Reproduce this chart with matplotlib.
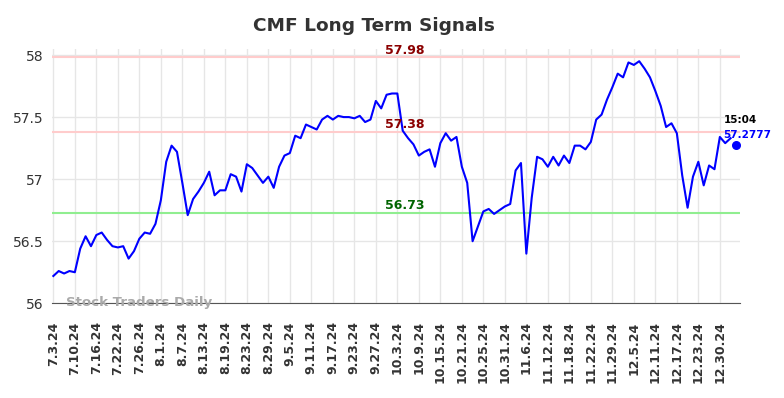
import matplotlib
matplotlib.use('Agg')
import matplotlib.pyplot as plt

# closing values (one per trading day)
prices = [
    56.22, 56.26, 56.24, 56.26, 56.25, 56.44, 56.54, 56.46, 56.55, 56.57,
    56.51, 56.46, 56.45, 56.46, 56.36, 56.42, 56.52, 56.57, 56.56, 56.64,
    56.83, 57.14, 57.27, 57.22, 56.97, 56.71, 56.84, 56.90, 56.97, 57.06,
    56.87, 56.91, 56.91, 57.04, 57.02, 56.90, 57.12, 57.09, 57.03, 56.97,
    57.02, 56.93, 57.10, 57.19, 57.21, 57.35, 57.33, 57.44, 57.42, 57.40,
    57.48, 57.51, 57.48, 57.51, 57.50, 57.50, 57.49, 57.51, 57.46, 57.48,
    57.63, 57.57, 57.68, 57.69, 57.69, 57.39, 57.33, 57.28, 57.19, 57.22,
    57.24, 57.10, 57.29, 57.37, 57.31, 57.34, 57.10, 56.97, 56.50, 56.62,
    56.74, 56.76, 56.72, 56.75, 56.78, 56.80, 57.07, 57.13, 56.40, 56.85,
    57.18, 57.16, 57.10, 57.18, 57.11, 57.19, 57.13, 57.27, 57.27, 57.24,
    57.30, 57.48, 57.52, 57.64, 57.74, 57.85, 57.82, 57.94, 57.92, 57.95,
    57.89, 57.82, 57.71, 57.59, 57.42, 57.45, 57.37, 57.03, 56.77, 57.02,
    57.14, 56.95, 57.11, 57.08, 57.34, 57.29, 57.33,
]
last_price = 57.2777
last_time = '15:04'

tick_labels = [
    '7.3.24', '7.10.24', '7.16.24', '7.22.24', '7.26.24', '8.1.24', '8.7.24',
    '8.13.24', '8.19.24', '8.23.24', '8.29.24', '9.5.24', '9.11.24', '9.17.24',
    '9.23.24', '9.27.24', '10.3.24', '10.9.24', '10.15.24', '10.21.24',
    '10.25.24', '10.31.24', '11.6.24', '11.12.24', '11.18.24', '11.22.24',
    '11.29.24', '12.5.24', '12.11.24', '12.17.24', '12.23.24', '12.30.24',
]
tick_step = 4

signal_high = 57.98
signal_mid = 57.38
signal_low = 56.73

fig = plt.figure(figsize=(7.84, 3.98), dpi=100)
ax = fig.add_axes([52 / 784, 1 - 303.3 / 398, 688 / 784, 254.5 / 398])

x = list(range(len(prices)))
ax.plot(x, prices, color='#0000ff', lw=1.5, zorder=3)
ax.scatter([len(prices)], [last_price], color='#0000ff', s=30, zorder=4)

ax.axhline(signal_high, color='#ffcccc', lw=1.5, zorder=2)
ax.axhline(signal_mid, color='#ffcccc', lw=1.5, zorder=2)
ax.axhline(signal_low, color='#90ee90', lw=1.5, zorder=2)

lab_x = 65.4
ax.text(lab_x, signal_high + 0.005, f'{signal_high:.2f}', color='#8b0000',
        fontsize=9, fontweight='bold', ha='center', va='bottom')
ax.text(lab_x, signal_mid + 0.005, f'{signal_mid:.2f}', color='#8b0000',
        fontsize=9, fontweight='bold', ha='center', va='bottom')
ax.text(lab_x, signal_low + 0.005, f'{signal_low:.2f}', color='#006400',
        fontsize=9, fontweight='bold', ha='center', va='bottom')

ax.text(124.7, last_price + 0.195, last_time, color='black', fontsize=7.5,
        fontweight='bold', ha='left', va='center')
ax.text(124.7, last_price + 0.08, f'{last_price}', color='#0000ff', fontsize=7.5,
        fontweight='bold', ha='left', va='center')

ax.text(2.4, 56.01, 'Stock Traders Daily', color='#aaaaaa', fontsize=9.6,
        fontweight='bold', ha='left', va='center', zorder=5)

ax.set_xlim(-0.25, 127.75)
ax.set_ylim(56, 58.05)
ax.set_xticks([i * tick_step for i in range(len(tick_labels))])
ax.set_xticklabels(tick_labels, rotation=90, fontsize=9, fontweight='bold', color='#333333')
ax.set_yticks([56, 56.5, 57, 57.5, 58])
ax.set_yticklabels(['56', '56.5', '57', '57.5', '58'], fontsize=10, color='#333333')
ax.tick_params(axis='y', length=0, pad=6)
ax.tick_params(axis='x', length=0, pad=13)
ax.grid(True, color='#e6e6e6', lw=1)
ax.set_axisbelow(True)
for side in ['left', 'right', 'top']:
    ax.spines[side].set_visible(False)
ax.spines['bottom'].set_color('#555555')

fig.suptitle('CMF Long Term Signals', x=374 / 784, y=1 - 26 / 398, va='center',
             fontsize=13.3, fontweight='bold', color='#333333')

fig.savefig('out.png', dpi=100)
